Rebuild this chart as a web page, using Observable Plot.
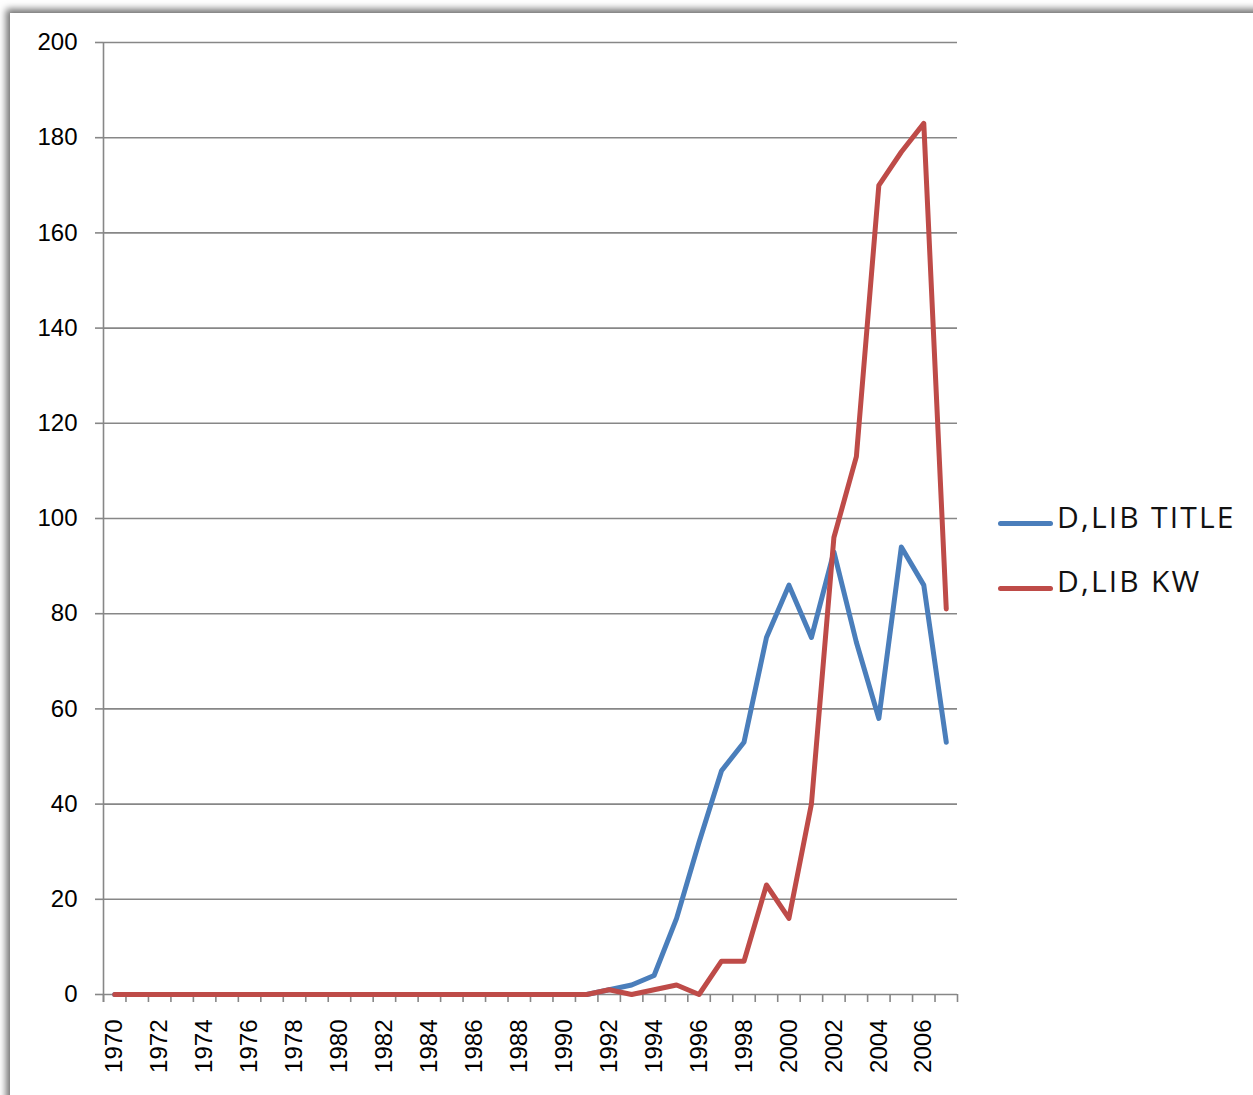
<!DOCTYPE html>
<html>
<head>
<meta charset="utf-8">
<script src="https://cdn.jsdelivr.net/npm/d3@7"></script>
<script src="https://cdn.jsdelivr.net/npm/@observablehq/plot@0.6"></script>
<style>
html, body { margin: 0; padding: 0; background: #fff; overflow: hidden; width: 1253px; height: 1095px; }
#frame { position: absolute; left: 10px; top: 13px; width: 1400px; height: 1300px; background: #fff;
  box-shadow: -3px -3px 7px 1px rgba(0,0,0,0.55); }
#chart { position: absolute; left: 0; top: 0; }
.leg { position: absolute; font-family: "Open Sans", sans-serif; font-size: 30px; letter-spacing: 2.2px; color: #111; white-space: nowrap; line-height: 1; }
.legline { position: absolute; height: 5px; border-radius: 3px; }
</style>
</head>
<body>
<div id="frame"></div>
<div id="chart"></div>
<div class="legline" style="left:998px; top:521px; width:55px; background:#4A7EBB"></div>
<div class="leg" id="lg1" style="left:1057px; top:502px;">D,LIB TITLE</div>
<div class="legline" style="left:998px; top:586px; width:55px; background:#BE4B48"></div>
<div class="leg" id="lg2" style="left:1057px; top:566px;">D,LIB KW</div>
<script>
const years = d3.range(1970, 2008);
const titleValues = [0,0,0,0,0,0,0,0,0,0, 0,0,0,0,0,0,0,0,0,0, 0,0,1,2,4,16,32,47,53,75, 86,75,93,74,58,94,86,53];
const kwValues    = [0,0,0,0,0,0,0,0,0,0, 0,0,0,0,0,0,0,0,0,0, 0,0,1,0,1,2,0,7,7,23, 16,40,96,113,170,177,183,81];
const yTicks = [0,20,40,60,80,100,120,140,160,180,200];
const xLabels = d3.range(1970, 2008, 2);
const seriesNames = ["D,LIB TITLE", "D,LIB KW"];
const colors = ["#4A7EBB", "#BE4B48"];

const data = [];
years.forEach((y, i) => {
  data.push({year: y, value: titleValues[i], series: seriesNames[0]});
});
years.forEach((y, i) => {
  data.push({year: y, value: kwValues[i], series: seriesNames[1]});
});
const boundaries = [...years.map(y => y - 0.5), years[years.length - 1] + 0.5];

const grid = "#878787";
const chart = Plot.plot({
  width: 1253,
  height: 1095,
  marginLeft: 103,
  marginRight: 296,
  marginTop: 42,
  marginBottom: 101,
  style: {background: "transparent", fontFamily: "'Liberation Sans', Arial, sans-serif", color: "#000"},
  x: {type: "linear", domain: [boundaries[0], boundaries[boundaries.length - 1]], axis: null},
  y: {domain: [0, 200], axis: null},
  color: {domain: seriesNames, range: colors},
  marks: [
    Plot.ruleY(yTicks, {stroke: grid, strokeWidth: 1.6}),
    Plot.ruleX([boundaries[0]], {y1: 200, y2: 0, stroke: grid, strokeWidth: 1.6, insetBottom: -8}),
    Plot.axisY(yTicks, {label: null, tickSize: 8, tickPadding: 18, stroke: grid, strokeWidth: 1.6, fontSize: 24, fill: "#000", strokeOpacity: 1}),
    Plot.axisX(boundaries, {label: null, tickSize: 8, tickFormat: () => "", stroke: grid, strokeWidth: 1.6, strokeOpacity: 1}),
    Plot.text(xLabels, {x: d => d, y: 0, text: d => String(d), rotate: -90, textAnchor: "end", dy: 25, fontSize: 24, fill: "#000"}),
    Plot.line(data, {x: "year", y: "value", z: "series", stroke: "series", strokeWidth: 5, strokeLinecap: "round"})
  ]
});
document.getElementById("chart").appendChild(chart);
</script>
</body>
</html>
